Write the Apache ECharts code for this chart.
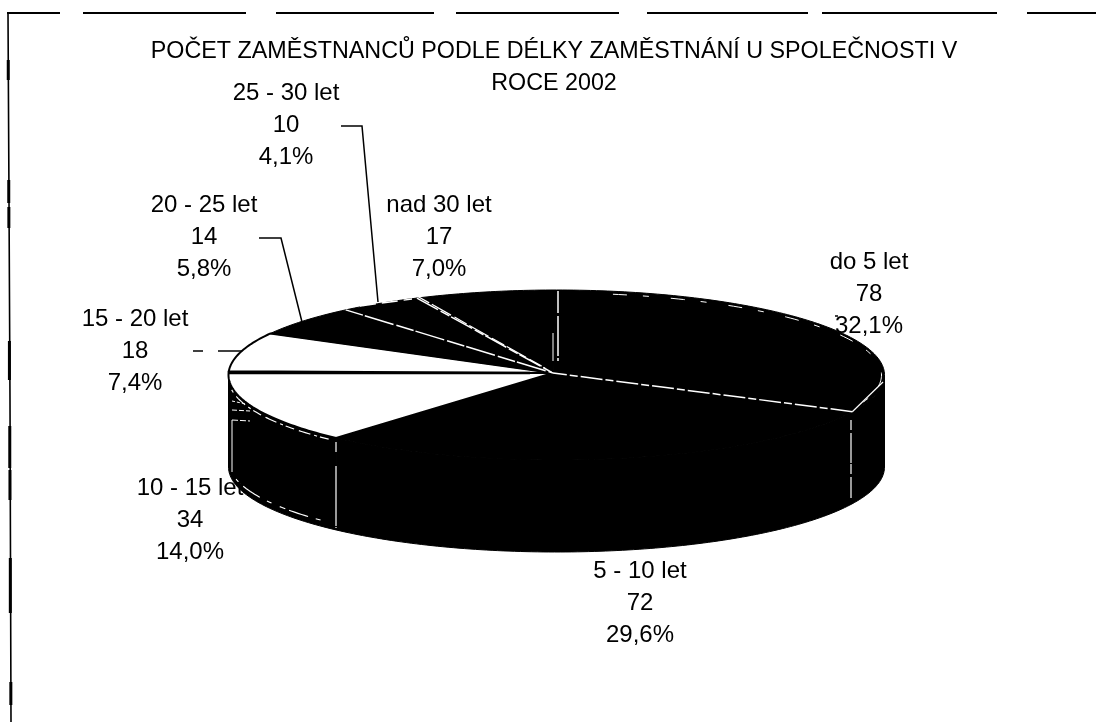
<!DOCTYPE html>
<html>
<head>
<meta charset="utf-8">
<title>Počet zaměstnanců</title>
<script src="https://cdn.jsdelivr.net/npm/echarts@6/dist/echarts.min.js"></script>
<style>
    html, body { margin: 0; padding: 0; background: #fff; }
    #chart { width: 1096px; height: 722px; }
</style>
</head>
<body>
<div id="chart"></div>
<script>
// data
var categories = ['do 5 let', '5 - 10 let', '10 - 15 let', '15 - 20 let', '20 - 25 let', '25 - 30 let', 'nad 30 let'];
var employees = [78, 72, 34, 18, 14, 10, 17];
var titleLines = ['POČET ZAMĚSTNANCŮ PODLE DÉLKY ZAMĚSTNÁNÍ U SPOLEČNOSTI V', 'ROCE 2002'];

// look of the slices and where the labels sit
var topColors = ['#000', '#000', '#fff', '#fff', '#000', '#000', '#000'];
var labelCenters = [[869, 262], [640, 571], [190, 488], [135, 319], [204, 205], [286, 93], [439, 205]];
var leaders = [
    [[[835, 316], [838, 316]]],
    [],
    [],
    [[[193, 351], [203, 351]], [[218, 351], [242, 351]]],
    [[[259, 238], [281, 238], [302, 322]]],
    [[[341, 126], [362, 126], [378, 302]]],
    []
];

var CX = 556.5, CY = 375, RX = 328, RY = 85, DEPTH = 92;
var APEX = [553, 373];
var LINE_GAP = 32;
var FONT = '24px "Liberation Sans", Arial, sans-serif';

var total = employees.reduce(function (a, b) { return a + b; }, 0);

function rimPoint(deg, inset, drop) {
    var r = deg * Math.PI / 180;
    return [CX + (RX - inset) * Math.sin(r), CY + (drop || 0) - (RY - inset) * Math.cos(r)];
}

function arc(from, to, inset, drop) {
    var pts = [];
    var steps = Math.max(2, Math.ceil(Math.abs(to - from)));
    for (var i = 0; i <= steps; i++) {
        pts.push(rimPoint(from + (to - from) * i / steps, inset, drop));
    }
    return pts;
}

function line(points, color, width, dash) {
    return {
        type: 'polyline',
        z2: 5,
        shape: { points: points },
        style: { stroke: color, lineWidth: width, fill: null, lineDash: dash || null }
    };
}

function renderSlice(params, api) {
    var i = params.dataIndex;
    var before = employees.slice(0, i).reduce(function (a, b) { return a + b; }, 0);
    var start = before / total * 360;
    var end = start + api.value(1) / total * 360;
    var kids = [];

    // side wall, only the part that faces the viewer
    var wallFrom = Math.max(start, 90);
    var wallTo = Math.min(end, 270);
    if (wallTo > wallFrom) {
        var wall = arc(wallFrom, wallTo, 0).concat(arc(wallTo, wallFrom, 0, DEPTH));
        kids.push({ type: 'polygon', shape: { points: wall }, style: { fill: '#000', stroke: '#000', lineWidth: 1 } });
    }

    // top face
    var face = [APEX].concat(arc(start, end, 0));
    var isWhite = topColors[i] === '#fff';
    kids.push({ type: 'polygon', shape: { points: face }, style: { fill: topColors[i], stroke: '#000', lineWidth: isWhite ? 2 : 1 } });

    if (i === 0) {
        // dashed highlights on the big black slice
        kids.push(line(arc(10, 113, 3), '#fff', 1, [14, 16, 6, 22]));
        kids.push(line([rimPoint(end, 0), APEX], '#fff', 1.5, [22, 3, 8, 3]));
        kids.push(line([[558, 291], [558, 361]], '#fff', 1.5, [22, 3, 40, 2]));
        kids.push(line([[553, 333], [553, 361]], '#fff', 1));
        kids.push(line([[851, 420], [851, 498]], '#fff', 1.2, [10, 3, 30, 1]));
        kids.push(line([rimPoint(115.6, 0), [883, 382]], '#fff', 1.2));
    }
    if (i === 1) {
        kids.push(line([[336, 442], [336, 528]], '#fff', 1.2, [10, 14, 60, 1]));
    }
    if (i === 2) {
        kids.push(line(arc(224, 262, 0, 3), '#fff', 1.2, [9, 3, 3, 4, 12, 5]));
        kids.push(line(arc(226, 258, 0, 86), '#fff', 1.2, [5, 8, 20, 4, 6, 9]));
        kids.push(line([[232, 420], [232, 472]], '#fff', 1));
        kids.push(line([[232, 401], [246, 404]], '#fff', 1, [3, 2]));
        kids.push(line([[232, 410], [250, 411]], '#fff', 1, [5, 2]));
        kids.push(line([[232, 420], [250, 421]], '#fff', 1, [6, 2]));
    }
    if (i === 3) {
        kids.push(line([[228, 373], [530, 373]], '#000', 2.4));
    }
    if (i === 4) {
        kids.push(line([rimPoint(end, 0), APEX], '#fff', 1.5, [18, 2, 30, 3]));
    }
    if (i === 5) {
        kids.push(line([rimPoint(end, 0), APEX], '#fff', 1.5, [24, 3, 10, 2]));
        kids.push(line([[417, 296], [545, 368]], '#fff', 1.2, [14, 3, 22, 4]));
        kids.push(line([[360, 306], [412, 299]], '#fff', 1.5, [16, 6]));
    }

    // leader lines
    leaders[i].forEach(function (pts) {
        kids.push(line(pts, '#000', 1.5));
    });

    // three line label: name, count, share
    var share = (api.value(1) / total * 100).toFixed(1).replace('.', ',') + '%';
    [categories[i], String(api.value(1)), share].forEach(function (txt, row) {
        kids.push({
            type: 'text',
            z2: 10,
            style: {
                text: txt,
                x: labelCenters[i][0],
                y: labelCenters[i][1] + row * LINE_GAP,
                textAlign: 'center',
                textVerticalAlign: 'middle',
                font: FONT,
                fill: '#000'
            }
        });
    });

    return { type: 'group', children: kids };
}

// scanned frame: broken line on top, uneven one on the left
var topFrame = [[7, 60], [83, 246], [276, 434], [456, 619], [647, 808], [822, 997], [1027, 1096]];
var leftThick = [[60, 80], [180, 203], [207, 228], [341, 380], [426, 468], [470, 500], [558, 613], [682, 705]];
var frame = [];
topFrame.forEach(function (s) {
    frame.push({ type: 'line', shape: { x1: s[0], y1: 13, x2: s[1], y2: 13 }, style: { stroke: '#000', lineWidth: 2 } });
});
frame.push({ type: 'polyline', shape: { points: [[8, 13], [9, 200], [10, 400], [11, 722]] }, style: { stroke: '#000', lineWidth: 1.6, fill: null } });
leftThick.forEach(function (s) {
    var x = 8 + s[0] / 722 * 3;
    frame.push({ type: 'line', shape: { x1: x, y1: s[0], x2: x, y2: s[1] }, style: { stroke: '#000', lineWidth: 3 } });
});

var chart = echarts.init(document.getElementById('chart'));
chart.setOption({
    backgroundColor: '#fff',
    animation: false,
    title: {
        text: titleLines.join('\n'),
        left: 549,
        top: 31,
        textAlign: 'center',
        textStyle: { color: '#000', fontWeight: 'normal', fontFamily: '"Liberation Sans", Arial, sans-serif', fontSize: 23.3, lineHeight: 32 }
    },
    graphic: frame,
    series: [{
        type: 'custom',
        coordinateSystem: 'none',
        renderItem: renderSlice,
        data: employees.map(function (v, i) { return { name: categories[i], value: [i, v] }; })
    }]
});
</script>
</body>
</html>
